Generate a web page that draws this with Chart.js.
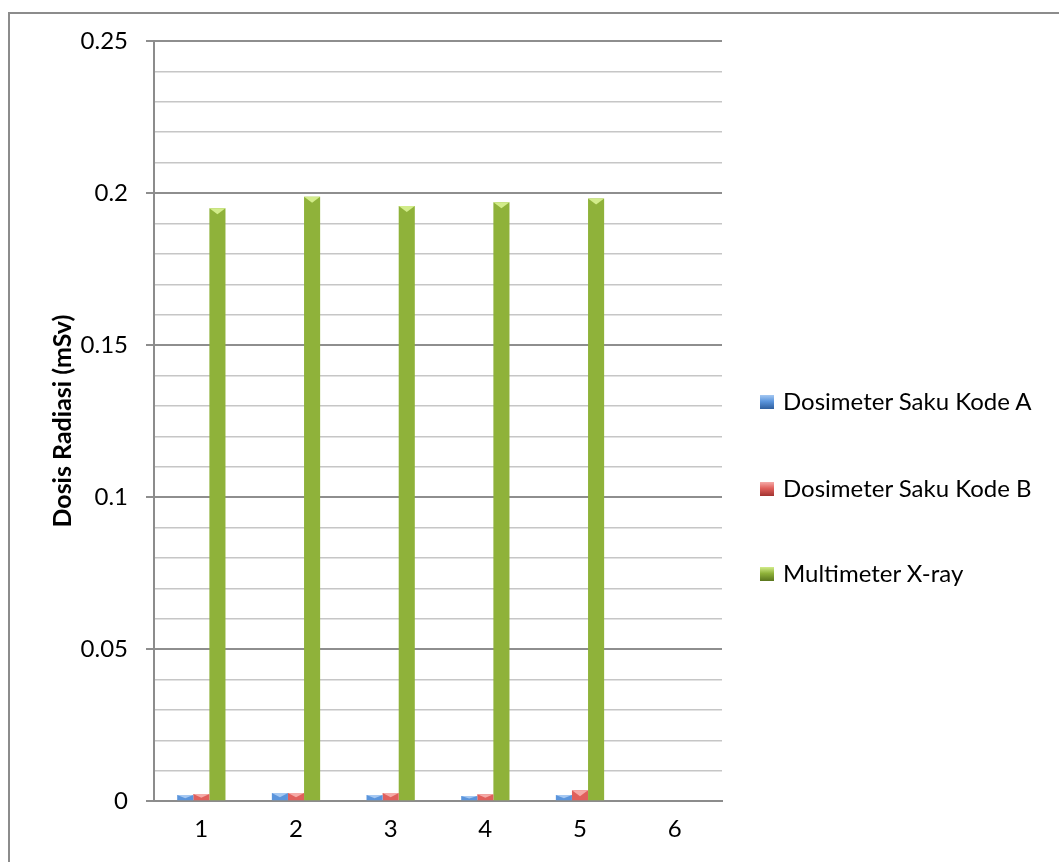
<!DOCTYPE html>
<html lang="id">
<head>
<meta charset="UTF-8">
<title>Dosis Radiasi</title>
<script src="https://cdn.jsdelivr.net/npm/chart.js"></script>
<style>
    body { margin: 0; background: #fff; }
    .wrap { position: relative; width: 1059px; height: 862px; overflow: hidden; }
    .frame {
        position: absolute; left: 8px; top: 12px; width: 1100px; height: 900px;
        border-left: 2px solid #8c8c8c; border-top: 2px solid #8c8c8c;
    }
    canvas { position: absolute; left: 0; top: 0; }
    .legend { position: absolute; left: 760px; top: 0; font-family: Lato, sans-serif; font-size: 24px; color: #000; }
    .legend div { position: absolute; white-space: nowrap; line-height: 30px; }
    .legend span { display: inline-block; width: 14px; height: 14px; margin-right: 9px; vertical-align: 1px; }
</style>
</head>
<body>
<div class="wrap">
    <div class="frame"></div>
    <canvas id="chart" width="1059" height="862"></canvas>
    <div class="legend" id="legend"></div>
</div>
<script>
// data
var categories = ['1', '2', '3', '4', '5', '6'];
var kodeA = [0.0020, 0.0027, 0.0020, 0.0017, 0.0020, null];
var kodeB = [0.0024, 0.0027, 0.0027, 0.0023, 0.0036, null];
var xray = [0.1950, 0.1988, 0.1957, 0.1970, 0.1982, null];
var seriesNames = ['Dosimeter Saku Kode A', 'Dosimeter Saku Kode B', 'Multimeter X-ray'];
var yTickLabels = ['0', '0.05', '0.1', '0.15', '0.2', '0.25'];

// dark edge, light centre, top face
var palette = [
    ['#2f5f9e', '#5b95dc', '#a5c8f2'],
    ['#a13330', '#e0605c', '#f5aaa7'],
    ['#5a761e', '#8fb23a', '#d2ec8a']
];

var ctx = document.getElementById('chart').getContext('2d');

function barFill(i) {
    return function(c) {
        var el = c.element;
        if (!el || !isFinite(el.x) || !el.width) return palette[i][1];
        var g = c.chart.ctx.createLinearGradient(el.x - el.width / 2, 0, el.x + el.width / 2, 0);
        g.addColorStop(0, palette[i][0]);
        g.addColorStop(0.4, palette[i][1]);
        g.addColorStop(0.6, palette[i][1]);
        g.addColorStop(1, palette[i][0]);
        return g;
    };
}

function isMajor(v) {
    return Math.abs(v / 0.05 - Math.round(v / 0.05)) < 1e-6;
}

// lighter top bevel (V shape) on each bar
var bevel = {
    id: 'bevel',
    afterDatasetsDraw: function(chart) {
        var c = chart.ctx;
        chart.data.datasets.forEach(function(ds, i) {
            chart.getDatasetMeta(i).data.forEach(function(bar) {
                if (!isFinite(bar.y) || bar.base - bar.y < 1) return;
                var h = Math.min(6, (bar.base - bar.y) * 0.6);
                var l = bar.x - bar.width / 2, r = bar.x + bar.width / 2;
                c.save();
                c.fillStyle = palette[i][2];
                c.beginPath();
                c.moveTo(l, bar.y);
                c.lineTo(r, bar.y);
                c.lineTo(bar.x, bar.y + h);
                c.closePath();
                c.fill();
                c.restore();
            });
        });
    }
};

var font = { family: 'Lato, sans-serif', size: 24 };

var chart = new Chart(ctx, {
    type: 'bar',
    data: {
        labels: categories,
        datasets: [kodeA, kodeB, xray].map(function(values, i) {
            return {
                label: seriesNames[i],
                data: values,
                backgroundColor: barFill(i),
                borderWidth: 0,
                categoryPercentage: 0.51,
                barPercentage: 1
            };
        })
    },
    options: {
        responsive: false,
        animation: false,
        layout: { padding: { top: 41, right: 337, bottom: 4, left: 0 } },
        plugins: { legend: { display: false }, tooltip: { enabled: false } },
        scales: {
            x: {
                grid: { display: false, drawTicks: false },
                border: { color: '#8c8c8c', width: 2 },
                ticks: { color: '#000', font: font, padding: 14 }
            },
            y: {
                min: 0,
                max: 0.25,
                afterFit: function(scale) { scale.width = 154; },
                border: { color: '#8c8c8c', width: 2 },
                grid: {
                    color: function(c) { return isMajor(c.tick.value) ? '#8e8e8e' : '#c6c6c6'; },
                    lineWidth: function(c) { return isMajor(c.tick.value) ? 2 : 1.5; },
                    tickColor: function(c) { return isMajor(c.tick.value) ? '#8e8e8e' : 'rgba(0,0,0,0)'; },
                    tickLength: 8
                },
                ticks: {
                    stepSize: 0.01,
                    autoSkip: false,
                    color: '#000',
                    font: font,
                    padding: 18,
                    callback: function(v) {
                        return isMajor(v) ? yTickLabels[Math.round(v / 0.05)] : '';
                    }
                },
                title: {
                    display: true,
                    text: 'Dosis Radiasi (mSv)',
                    color: '#000',
                    font: { family: 'Lato, sans-serif', size: 25, weight: 'bold' },
                    padding: { top: 48, bottom: 0 }
                }
            }
        }
    },
    plugins: [bevel]
});

// legend beside the plot
var legendTops = [386, 473, 558];
var legend = document.getElementById('legend');
seriesNames.forEach(function(name, i) {
    var item = document.createElement('div');
    item.style.top = legendTops[i] + 'px';
    var sw = document.createElement('span');
    sw.style.background = 'linear-gradient(to bottom, ' + palette[i][2] + ' 0%, ' + palette[i][1] + ' 45%, ' + palette[i][0] + ' 100%)';
    item.appendChild(sw);
    item.appendChild(document.createTextNode(name));
    legend.appendChild(item);
});
</script>
</body>
</html>
